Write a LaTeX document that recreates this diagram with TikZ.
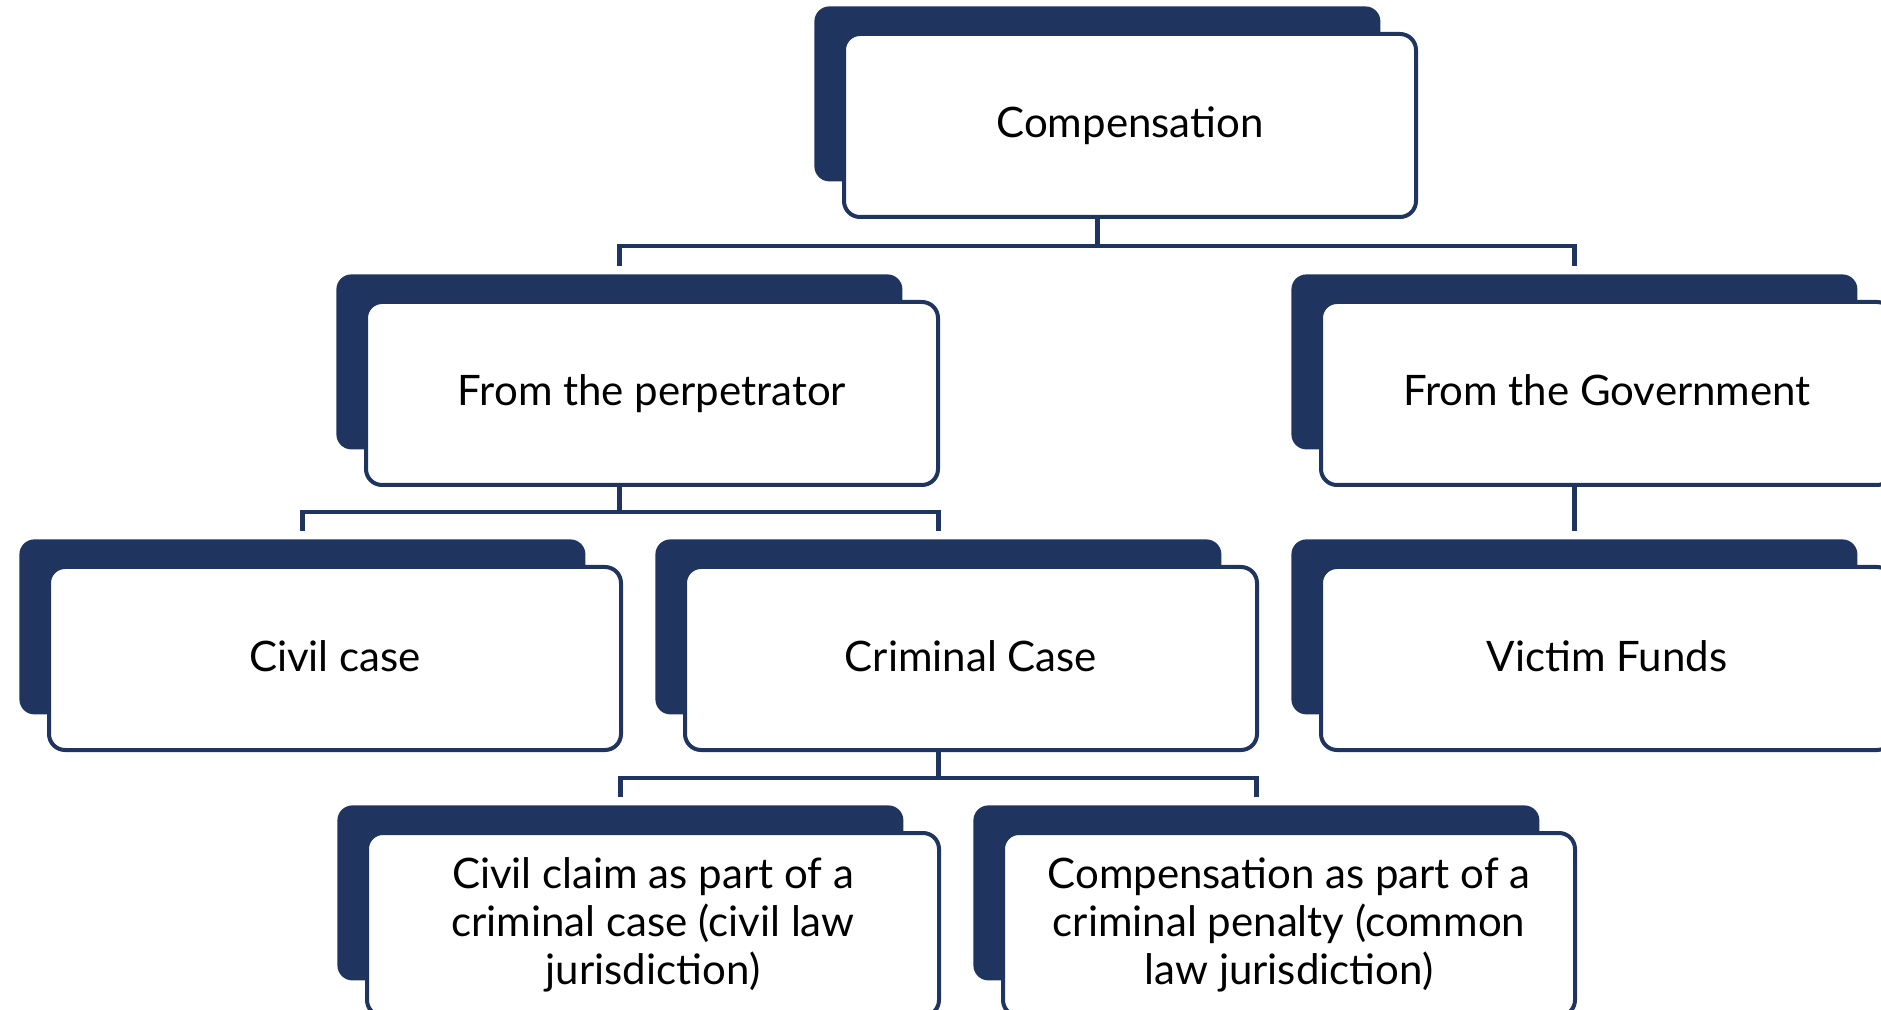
\documentclass[tikz,border=0pt]{standalone}
\usepackage{fontspec}
\setmainfont{Lato}
\definecolor{navy}{RGB}{31,53,96}

\tikzset{
    backbox/.style={fill=navy, rounded corners=7.5pt, minimum width=283pt, minimum height=87.5pt, inner sep=0pt, anchor=north west},
    frontbox/.style={draw=navy, fill=white, line width=2pt, rounded corners=8pt, minimum width=286pt, minimum height=91.5pt, inner sep=0pt, anchor=north west, align=center, font=\fontsize{21}{24}\selectfont},
    oneline/.style={text height=17pt, text depth=4.5pt},
    link/.style={draw=navy, line width=2.2pt},
    tochild/.style={link, shorten >=4pt}
}

\begin{document}
\begin{tikzpicture}[x=0.5pt,y=-0.5pt]
    \useasboundingbox (0,0) rectangle (1881,1010);
    \clip (0,0) rectangle (1881,1010);

    % top
    \node[backbox] (compback) at (814,6) {};
    \node[frontbox, oneline] (comp) at ([shift={(28,26)}]compback.north west) {Compensation};

    % second row
    \node[backbox] (perpback) at (336,274) {};
    \node[frontbox, oneline] (perp) at ([shift={(28,26)}]perpback.north west) {From the perpetrator};
    \node[backbox] (govback) at (1291,274) {};
    \node[frontbox, oneline] (gov) at ([shift={(28,26)}]govback.north west) {From the Government};

    % third row
    \node[backbox] (civilback) at (19,539) {};
    \node[frontbox, oneline] (civil) at ([shift={(28,26)}]civilback.north west) {Civil case};
    \node[backbox] (crimback) at (655,539) {};
    \node[frontbox, oneline] (crim) at ([shift={(28,26)}]crimback.north west) {Criminal Case};
    \node[backbox] (victimback) at (1291,539) {};
    \node[frontbox, oneline] (victim) at ([shift={(28,26)}]victimback.north west) {Victim Funds};

    % bottom row
    \node[backbox] (claimback) at (337,805) {};
    \node[frontbox] (claim) at ([shift={(28,26)}]claimback.north west) {Civil claim as part of a\\criminal case (civil law\\jurisdiction)};
    \node[backbox] (penaltyback) at (973,805) {};
    \node[frontbox] (penalty) at ([shift={(28,26)}]penaltyback.north west) {Compensation as part of a\\criminal penalty (common\\law jurisdiction)};

    % connectors
    \draw[link] (compback.center |- comp.south) -- ++(0,27) coordinate (j1);
    \draw[tochild] (j1) -| (perpback.north);
    \draw[tochild] (j1) -| (govback.north);

    \draw[link] (perpback.center |- perp.south) -- ++(0,25) coordinate (j2);
    \draw[tochild] (j2) -| (civilback.north);
    \draw[tochild] (j2) -| (crimback.north);

    \draw[tochild] (govback.center |- gov.south) -- (victimback.north);

    \draw[link] (crimback.center |- crim.south) -- ++(0,26) coordinate (j3);
    \draw[tochild] (j3) -| (claimback.north);
    \draw[tochild] (j3) -| (penaltyback.north);
\end{tikzpicture}
\end{document}
